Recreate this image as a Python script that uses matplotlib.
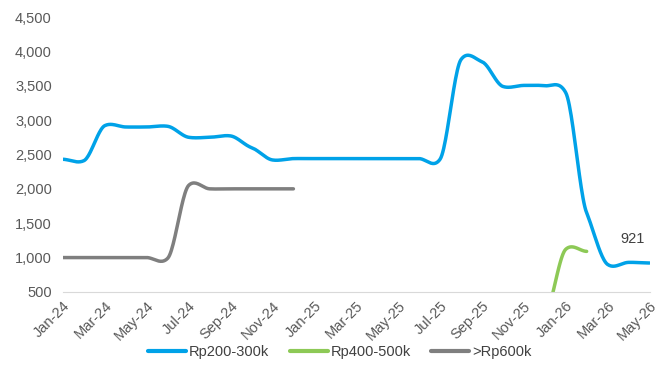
import matplotlib.pyplot as plt
import numpy as np

plt.rcParams['font.family'] = ['Liberation Sans', 'DejaVu Sans']

months = ['Jan-24', 'Feb-24', 'Mar-24', 'Apr-24', 'May-24', 'Jun-24', 'Jul-24', 'Aug-24',
          'Sep-24', 'Oct-24', 'Nov-24', 'Dec-24', 'Jan-25', 'Feb-25', 'Mar-25', 'Apr-25',
          'May-25', 'Jun-25', 'Jul-25', 'Aug-25', 'Sep-25', 'Oct-25', 'Nov-25', 'Dec-25',
          'Jan-26', 'Feb-26', 'Mar-26', 'Apr-26', 'May-26']

# None = no data for that month
rp200_300k = [2430, 2410, 2920, 2900, 2900, 2910, 2750, 2750, 2770, 2600, 2420, 2440,
              2440, 2440, 2440, 2440, 2440, 2440, 2430, 3880, 3850, 3490, 3505, 3500,
              3400, 1650, 900, 930, 921]
rp400_500k = [None] * 23 + [150, 1120, 1090, None, None, None]
rp600k_up = [1000, 1000, 1000, 1000, 1000, 990, 2050, 2000, 2000, 2000, 2000, 2000] + [None] * 17

series = [('Rp200-300k', rp200_300k, '#00A2E8'),
          ('Rp400-500k', rp400_500k, '#8DC956'),
          ('>Rp600k', rp600k_up, '#7F7F7F')]


def smooth(x, y, n=24, k=0.6):
    # hermite smoothing with damped tangents, close to excel's "smoothed line"
    x = np.asarray(x, float)
    y = np.asarray(y, float)
    yp = np.concatenate([[y[0]], y, [y[-1]]])
    xs, ys = [], []
    for i in range(len(x) - 1):
        t = np.linspace(0, 1, n)
        p0, p1, p2, p3 = yp[i], yp[i + 1], yp[i + 2], yp[i + 3]
        m1 = k * (p2 - p0) / 2
        m2 = k * (p3 - p1) / 2
        h00 = 2 * t**3 - 3 * t**2 + 1
        h10 = t**3 - 2 * t**2 + t
        h01 = -2 * t**3 + 3 * t**2
        h11 = t**3 - t**2
        ys.append(h00 * p1 + h10 * m1 + h01 * p2 + h11 * m2)
        xs.append(x[i] + t * (x[i + 1] - x[i]))
    return np.concatenate(xs), np.concatenate(ys)


fig = plt.figure(figsize=(6.65, 3.7), dpi=100)
ax = fig.add_axes([0.0947, 0.211, 0.882, 0.743])

for label, vals, color in series:
    idx = [i for i, v in enumerate(vals) if v is not None]
    xs, ys = smooth(idx, [vals[i] for i in idx])
    ax.plot(xs, ys, color=color, lw=2.5, label=label, solid_capstyle='round')

ax.annotate(f'{rp200_300k[-1]:,}', (len(months) - 1, rp200_300k[-1]),
            xytext=(-12, 12), textcoords='offset points', ha='center', va='bottom',
            fontsize=10.5, color='#404040')

ax.set_xlim(0, len(months) - 1)
ax.set_ylim(500, 4500)
ax.set_yticks(np.arange(500, 4501, 500))
ax.yaxis.set_major_formatter(plt.FuncFormatter(lambda v, p: f'{v:,.0f}'))
ax.set_xticks(range(0, len(months), 2))
ax.set_xticklabels(months[::2], rotation=45, ha='right', rotation_mode='anchor')
ax.tick_params(length=0, labelsize=10.5, colors='#595959')
ax.tick_params(axis='x', pad=5)
ax.tick_params(axis='y', pad=8)
for s in ['top', 'right', 'left']:
    ax.spines[s].set_visible(False)
ax.spines['bottom'].set_color('#D9D9D9')

leg = fig.legend(loc='center', bbox_to_anchor=(0.511, 0.048), ncol=3, frameon=False,
                 fontsize=10.5, handlelength=2.6, handletextpad=0.2, columnspacing=1.4,
                 labelcolor='#404040')
for h in leg.get_lines():
    h.set_linewidth(3)

fig.savefig('out.png', dpi=100)
